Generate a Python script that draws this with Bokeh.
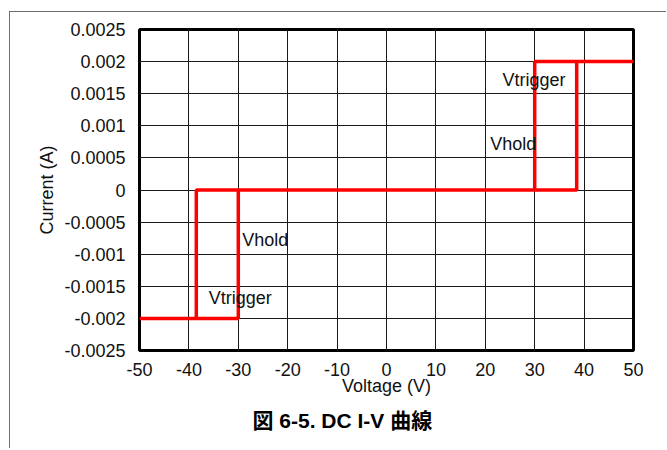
from bokeh.plotting import figure
from bokeh.models import FixedTicker, Title, Range1d
from bokeh.core.properties import value
from bokeh.embed import file_html
from bokeh.resources import INLINE

# ---- data ----
voltage = [-50, -30, -30, 38.5, 38.5, 50, 30, 30, -38.5, -38.5, -50]
current = [-0.002, -0.002, 0.0, 0.0, 0.002, 0.002, 0.002, 0.0, 0.0, -0.002, -0.002]

x_ticks = [-50, -40, -30, -20, -10, 0, 10, 20, 30, 40, 50]
x_tick_labels = ["-50", "-40", "-30", "-20", "-10", "0", "10", "20", "30", "40", "50"]
y_ticks = [-0.0025, -0.002, -0.0015, -0.001, -0.0005, 0.0, 0.0005, 0.001, 0.0015, 0.002, 0.0025]
y_tick_labels = ["-0.0025", "-0.002", "-0.0015", "-0.001", "-0.0005", "0",
                 "0.0005", "0.001", "0.0015", "0.002", "0.0025"]

note_text = ["Vtrigger", "Vhold", "Vtrigger", "Vhold"]
note_x = [-36.0, -29.2, 23.5, 21.0]
note_y = [-0.00169, -0.00078, 0.00171, 0.00071]

caption = "図 6-5. DC I-V 曲線"

FONT = "Liberation Sans"
FS = "18px"

p = figure(width=657, height=437, output_backend="svg", toolbar_location=None,
           x_range=Range1d(-50, 50), y_range=Range1d(-0.0025, 0.0025),
           min_border_left=129, min_border_right=34, min_border_top=17, min_border_bottom=99)
# document box edges (top and left rules of the page)
p.styles = {"margin-left": "9px", "margin-top": "11px",
            "border-top": "1px solid #6e6e6e", "border-left": "1px solid #6e6e6e"}

p.background_fill_color = "white"
p.border_fill_color = "white"
p.outline_line_color = "black"
p.outline_line_width = 3

p.line(voltage, current, line_color="#ff0000", line_width=3.5)

p.text(note_x, note_y, text=note_text, text_font=value(FONT), text_font_size=FS,
       text_color="#111111", text_align="left", text_baseline="middle")

p.xaxis.ticker = FixedTicker(ticks=x_ticks)
p.yaxis.ticker = FixedTicker(ticks=y_ticks)
p.xaxis.major_label_overrides = {t: l for t, l in zip(x_ticks, x_tick_labels)}
p.yaxis.major_label_overrides = {t: l for t, l in zip(y_ticks, y_tick_labels)}

for ax in (p.xaxis[0], p.yaxis[0]):
    ax.axis_line_color = None
    ax.major_tick_line_color = None
    ax.minor_tick_line_color = None
    ax.major_label_text_font = FONT
    ax.major_label_text_font_size = FS
    ax.major_label_text_color = "#111111"
    ax.axis_label_text_font = FONT
    ax.axis_label_text_font_size = FS
    ax.axis_label_text_font_style = "normal"
    ax.axis_label_text_color = "#111111"

p.xaxis.axis_label = "Voltage (V)"
p.yaxis.axis_label = "Current (A)"
p.xaxis.major_label_standoff = 6
p.yaxis.major_label_standoff = 8
p.xaxis.axis_label_standoff = -3
p.yaxis.axis_label_standoff = 4

p.xgrid.ticker = FixedTicker(ticks=x_ticks)
p.ygrid.ticker = FixedTicker(ticks=y_ticks)
p.grid.grid_line_color = "#1a1a1a"
p.grid.grid_line_width = 1

p.add_layout(Title(text=caption, align="left", offset=113,
                   text_font=FONT + ", Noto Sans CJK JP", text_font_size="21px",
                   text_font_style="bold", text_color="black", standoff=16), "below")

open("out.html", "w").write(file_html(p, INLINE))
